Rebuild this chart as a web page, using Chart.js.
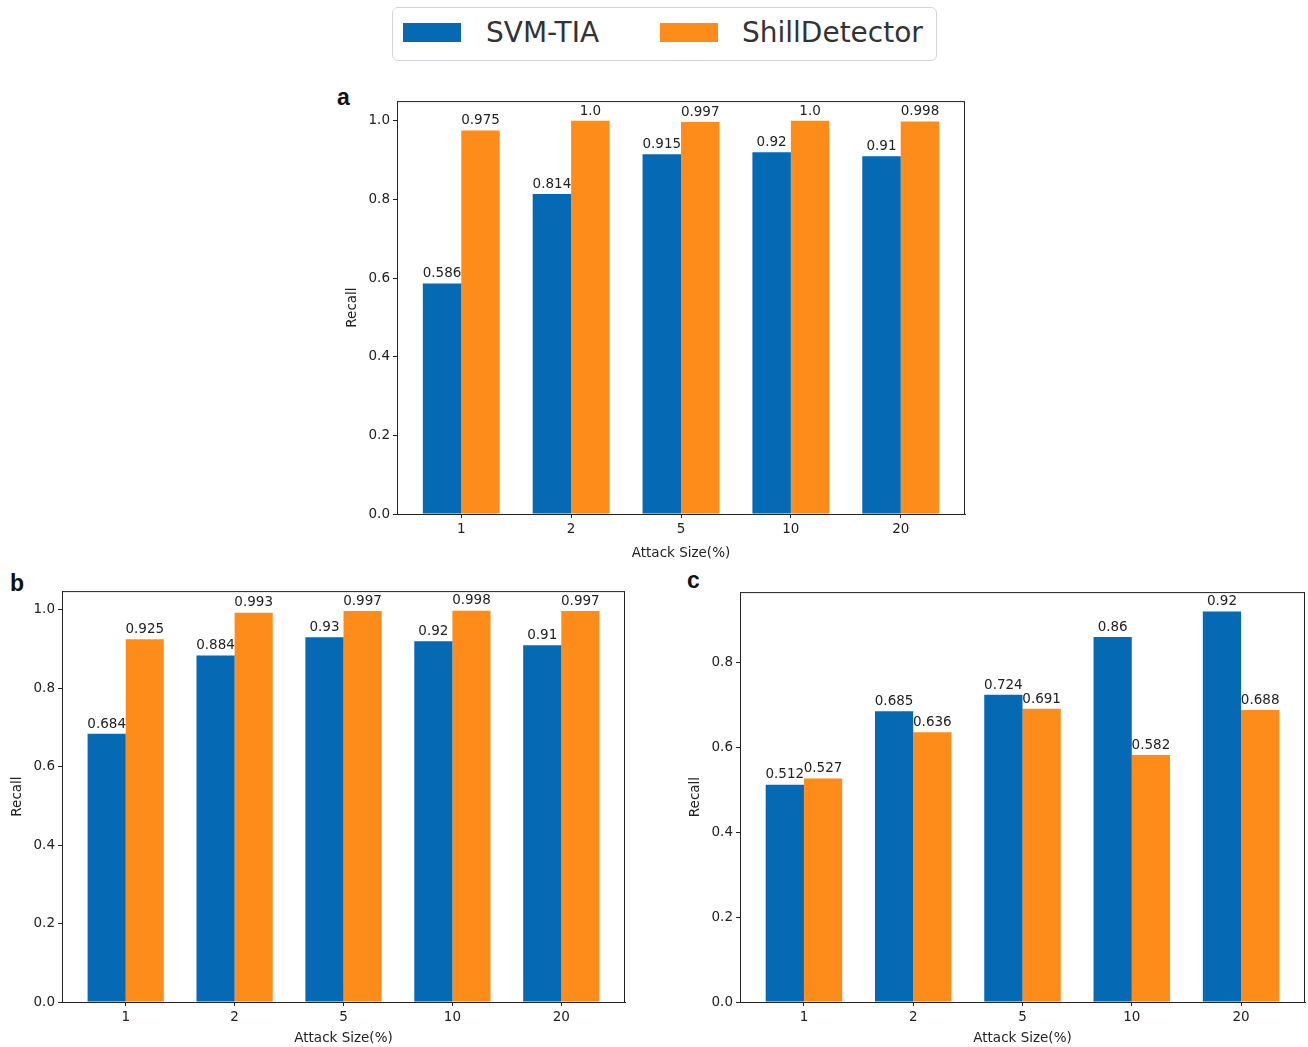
<!DOCTYPE html>
<html>
<head>
<meta charset="utf-8">
<script src="https://cdn.jsdelivr.net/npm/chart.js@4"></script>
<style>
  body { margin: 0; background: #fff; width: 1308px; height: 1047px; position: relative; overflow: hidden; font-family: "DejaVu Sans", sans-serif; }
  .panel { position: absolute; }
  .letter { position: absolute; font-family: "Liberation Sans", Arial, sans-serif; font-weight: bold; font-size: 23px; color: #111; }
  #legend { position: absolute; left: 392px; top: 7px; width: 545px; height: 54px; border: 1.5px solid #d4d4d4; border-radius: 6px; box-sizing: border-box; }
  .sw { position: absolute; top: 15px; width: 58px; height: 19px; }
  .lt { position: absolute; top: 8px; font-size: 28px; color: #333; }
</style>
</head>
<body>
<div id="legend">
  <div class="sw" style="left:10px;background:#0569b3"></div>
  <div class="lt" style="left:93px">SVM-TIA</div>
  <div class="sw" style="left:267px;background:#fd8c1a"></div>
  <div class="lt" style="left:349px">ShillDetector</div>
</div>
<div class="letter" style="left:337px;top:84px">a</div>
<div class="letter" style="left:10px;top:570px">b</div>
<div class="letter" style="left:687px;top:567px">c</div>

<div class="panel" style="left:340px;top:90px;width:630px;height:474px"><canvas id="chartA"></canvas></div>
<div class="panel" style="left:5px;top:580px;width:625px;height:467px"><canvas id="chartB"></canvas></div>
<div class="panel" style="left:683px;top:581px;width:625px;height:466px"><canvas id="chartC"></canvas></div>

<script>
// Data
const sizes = ['1', '2', '5', '10', '20'];

const svmA = [0.586, 0.814, 0.915, 0.92, 0.91];
const shillA = [0.975, 1.0, 0.997, 1.0, 0.998];

const svmB = [0.684, 0.884, 0.93, 0.92, 0.91];
const shillB = [0.925, 0.993, 0.997, 0.998, 0.997];

const svmC = [0.512, 0.685, 0.724, 0.86, 0.92];
const shillC = [0.527, 0.636, 0.691, 0.582, 0.688];

const yTicksAB = [0, 0.2, 0.4, 0.6, 0.8, 1.0];
const yTicksC = [0, 0.2, 0.4, 0.6, 0.8];

const blue = '#0569b3';
const orange = '#fd8c1a';
const font = { family: 'DejaVu Sans', size: 13.5 };

// box around the plot area + value labels over bars
const framePlugin = {
    id: 'frame',
    afterDraw(chart) {
        const ctx = chart.ctx;
        const a = chart.chartArea;
        ctx.save();
        ctx.strokeStyle = '#222';
        ctx.lineWidth = 1;
        ctx.strokeRect(a.left + 0.5, a.top + 0.5, a.right - a.left - 1, a.bottom - a.top);
        ctx.restore();
    },
    afterDatasetsDraw(chart) {
        const ctx = chart.ctx;
        ctx.save();
        ctx.font = '13.5px "DejaVu Sans"';
        ctx.fillStyle = '#222';
        ctx.textAlign = 'center';
        ctx.textBaseline = 'bottom';
        chart.data.datasets.forEach((ds, di) => {
            chart.getDatasetMeta(di).data.forEach((bar, i) => {
                const v = ds.data[i].y;
                const txt = v === 1 ? '1.0' : String(v);
                ctx.fillText(txt, bar.x, bar.y - 3);
            });
        });
        ctx.restore();
    }
};

function makeConfig(svm, shill, yMax, yTicks, pad) {
    return {
        type: 'bar',
        data: {
            datasets: [{
                label: 'SVM-TIA',
                data: svm.map((v, i) => ({ x: i, y: v })),
                backgroundColor: blue,
                borderWidth: 0,
                categoryPercentage: 0.7,
                barPercentage: 1.0
            }, {
                label: 'ShillDetector',
                data: shill.map((v, i) => ({ x: i, y: v })),
                backgroundColor: orange,
                borderWidth: 0,
                categoryPercentage: 0.7,
                barPercentage: 1.0
            }]
        },
        options: {
            animation: false,
            responsive: true,
            maintainAspectRatio: false,
            layout: { padding: { top: pad.top, right: pad.right, left: 0, bottom: 0 } },
            plugins: { legend: { display: false }, tooltip: { enabled: false } },
            scales: {
                x: {
                    type: 'linear',
                    offset: false,
                    min: -0.585,
                    max: 4.585,
                    afterBuildTicks: s => { s.ticks = sizes.map((t, i) => ({ value: i })); },
                    afterFit: s => { s.height = pad.axisH; },
                    ticks: {
                        callback: v => sizes[v],
                        font: font,
                        color: '#222',
                        padding: 3,
                        maxRotation: 0,
                        autoSkip: false
                    },
                    grid: { offset: false, drawOnChartArea: false, tickLength: 4, color: '#222' },
                    border: { color: '#222' },
                    title: { display: true, text: 'Attack Size(%)', font: font, color: '#222', padding: { top: 4, bottom: pad.titleBottom } }
                },
                y: {
                    min: 0,
                    max: yMax,
                    afterBuildTicks: s => { s.ticks = yTicks.map(v => ({ value: v })); },
                    afterFit: s => { s.width = 57; },
                    ticks: {
                        callback: v => v.toFixed(1),
                        font: font,
                        color: '#222',
                        padding: 3
                    },
                    grid: { drawOnChartArea: false, tickLength: 4, color: '#222' },
                    border: { color: '#222' },
                    title: { display: true, text: 'Recall', font: font, color: '#222', padding: { top: 4, bottom: 4 } }
                }
            }
        },
        plugins: [framePlugin]
    };
}

new Chart(document.getElementById('chartA'),
    makeConfig(svmA, shillA, 1.05, yTicksAB, { top: 10, right: 5, axisH: 50, titleBottom: 2 }));
new Chart(document.getElementById('chartB'),
    makeConfig(svmB, shillB, 1.048, yTicksAB, { top: 10, right: 5, axisH: 45, titleBottom: 0 }));
new Chart(document.getElementById('chartC'),
    makeConfig(svmC, shillC, 0.966, yTicksC, { top: 10, right: 3, axisH: 45, titleBottom: 0 }));
</script>
</body>
</html>
